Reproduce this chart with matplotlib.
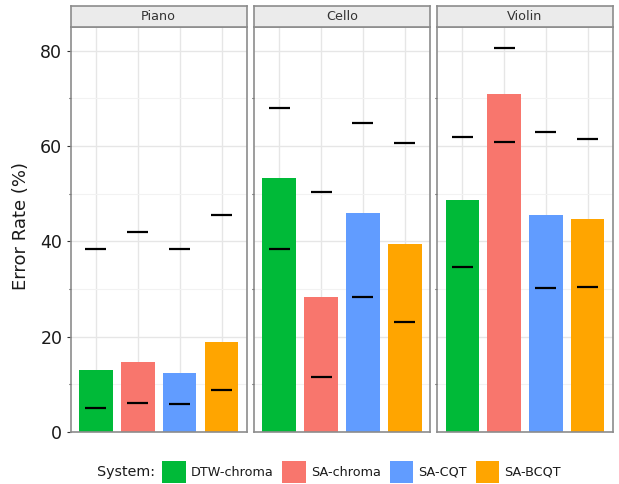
import matplotlib
matplotlib.use("Agg")
import matplotlib.pyplot as plt
from matplotlib.patches import Rectangle
import numpy as np

# ---- data ----
instruments = ["Piano", "Cello", "Violin"]
systems = ["DTW-chroma", "SA-chroma", "SA-CQT", "SA-BCQT"]
colors = ["#00BA38", "#F8766D", "#619CFF", "#FFA500"]

# mean error rate (bar height) per instrument, per system
bar_piano = [12.9, 14.7, 12.4, 18.8]
bar_cello = [53.2, 28.4, 45.9, 39.5]
bar_violin = [48.6, 70.9, 45.6, 44.7]

# lower / upper markers
low_piano = [5.0, 6.0, 5.8, 8.7]
low_cello = [38.3, 11.5, 28.3, 23.0]
low_violin = [34.6, 60.8, 30.3, 30.4]
high_piano = [38.4, 41.9, 38.4, 45.5]
high_cello = [67.9, 50.3, 64.8, 60.7]
high_violin = [62.0, 80.7, 62.9, 61.4]

y_ticks = [0, 20, 40, 60, 80]
y_minor = [10, 30, 50, 70]
y_label = "Error Rate (%)"
legend_title = "System:"

bars = [bar_piano, bar_cello, bar_violin]
lows = [low_piano, low_cello, low_violin]
highs = [high_piano, high_cello, high_violin]

# ---- layout ----
W, H = 619, 484
fig = plt.figure(figsize=(W / 100, H / 100), dpi=100)
plt.rcParams["font.family"] = ["DejaVu Sans"]
txt_col = "#1A1A1A"

panel_lr = [(70.7, 246.7), (254.0, 430.0), (437.3, 612.7)]
panel_top, panel_bot = 27.3, 431.8
strip_top = 5.7
border_col = "#8C8C8C"
grid_col = "#E6E6E6"
grid_minor_col = "#F2F2F2"

x = np.arange(1, len(systems) + 1)
for i, inst in enumerate(instruments):
    l, r = panel_lr[i]
    ax = fig.add_axes([l / W, 1 - panel_bot / H, (r - l) / W, (panel_bot - panel_top) / H])
    ax.set_xlim(0.4, 4.6)
    ax.set_ylim(0, 84.95)
    ax.set_axisbelow(True)
    ax.bar(x, bars[i], width=0.8, color=colors, linewidth=0, zorder=2)
    ax.hlines(lows[i], x - 0.25, x + 0.25, color="black", linewidth=1.6, zorder=3)
    ax.hlines(highs[i], x - 0.25, x + 0.25, color="black", linewidth=1.6, zorder=3)
    ax.set_xticks(x)
    ax.set_xticklabels([])
    ax.tick_params(axis="x", length=0)
    ax.set_yticks(y_ticks)
    ax.set_yticks(y_minor, minor=True)
    ax.grid(True, which="major", color=grid_col, linewidth=1.0)
    ax.grid(True, which="minor", axis="y", color=grid_minor_col, linewidth=0.8)
    if i == 0:
        ax.set_yticklabels([str(v) for v in y_ticks], fontsize=12.5, color=txt_col)
        ax.tick_params(axis="y", which="major", length=3, width=0.8, color="#333333", pad=3)
        ax.set_ylabel(y_label, fontsize=13, color=txt_col)
        ax.yaxis.set_label_coords(-0.23, 0.51)
    else:
        ax.set_yticklabels([])
        ax.tick_params(axis="y", which="major", length=0)
    ax.tick_params(axis="y", which="minor", length=1.2, width=0.8, color="#333333")
    for s in ax.spines.values():
        s.set_color(border_col)
        s.set_linewidth(1.2)
    # strip
    sax = fig.add_axes([l / W, 1 - panel_top / H, (r - l) / W, (panel_top - strip_top) / H])
    sax.set_facecolor("#EBEBEB")
    sax.set_xticks([])
    sax.set_yticks([])
    for s in sax.spines.values():
        s.set_color(border_col)
        s.set_linewidth(1.2)
    sax.text(0.5, 0.5, inst, ha="center", va="center", fontsize=9.2, color="#333333",
             transform=sax.transAxes)

# ---- legend (manual, ggplot-like bottom legend) ----
fig.canvas.draw()
renderer = fig.canvas.get_renderer()
cy = 472.0
xpos = 97.3
t = fig.text(xpos / W, 1 - cy / H, legend_title, ha="left", va="center", fontsize=10.3,
             color=txt_col)
bb = t.get_window_extent(renderer)
xpos += bb.width + 7.0
key_w, key_h = 23.4, 22.5
for name, col in zip(systems, colors):
    fig.patches.append(Rectangle((xpos / W, 1 - (cy + key_h / 2) / H), key_w / W, key_h / H,
                                 transform=fig.transFigure, facecolor=col, edgecolor="none"))
    xpos += key_w + 5.3
    t = fig.text(xpos / W, 1 - cy / H, name, ha="left", va="center", fontsize=9.2,
                 color=txt_col)
    bb = t.get_window_extent(renderer)
    xpos += bb.width + 8.7

fig.savefig("out.png", dpi=100)
